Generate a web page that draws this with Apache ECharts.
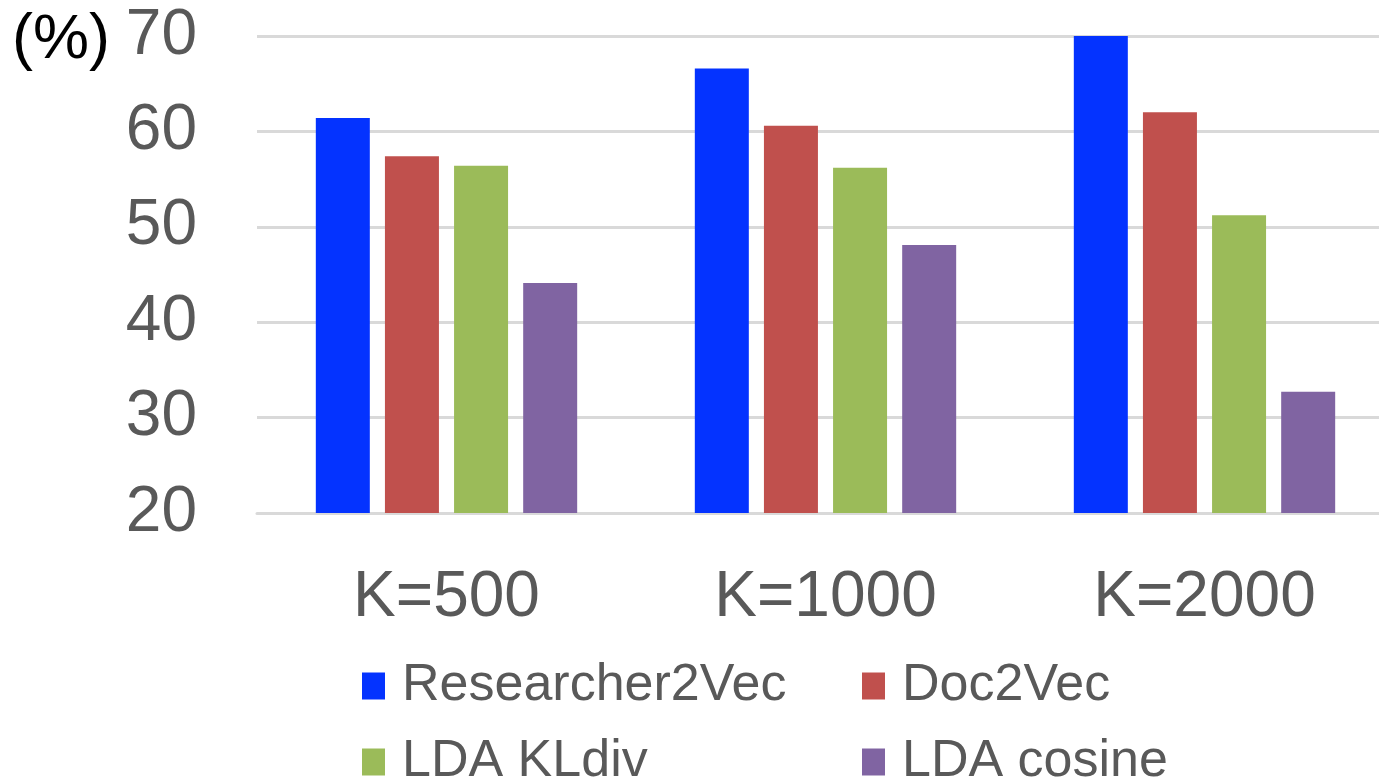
<!DOCTYPE html>
<html><head><meta charset="utf-8">
<script src="https://cdn.jsdelivr.net/npm/echarts@6/dist/echarts.min.js"></script>
<style>html,body{margin:0;padding:0;background:#fff;overflow:hidden}#c{width:1394px;height:777px}</style>
</head><body><div id="c"></div>
<script>
const categories = ['K=500', 'K=1000', 'K=2000'];
const seriesNames = ['Researcher2Vec', 'Doc2Vec', 'LDA KLdiv', 'LDA cosine'];
const researcher2vec = [61.4, 66.6, 70.2];
const doc2vec = [57.4, 60.6, 62.0];
const ldaKLdiv = [56.4, 56.2, 51.2];
const ldaCosine = [44.1, 48.1, 32.7];
const yTicks = [20, 30, 40, 50, 60, 70];
const colors = ['#0433ff', '#c0504d', '#9bbb59', '#8064a2'];
const values = [researcher2vec, doc2vec, ldaKLdiv, ldaCosine];

const font = 'Liberation Sans, Arial, sans-serif';
const chart = echarts.init(document.getElementById('c'));
const legendPos = [[357, 655], [857, 655], [357, 731], [857, 731]];
chart.setOption({
  animation: false,
  grid: { left: 257, top: 36, right: 0, height: 477, containLabel: false },
  xAxis: {
    type: 'category', data: categories,
    axisLine: { show: true, lineStyle: { color: '#d9d9d9', width: 3 } },
    axisTick: { show: false },
    axisLabel: { fontSize: 64, color: '#595959', fontFamily: font, margin: 53 }
  },
  yAxis: {
    type: 'value', min: yTicks[0], max: yTicks[yTicks.length - 1], interval: 10,
    axisLine: { show: false }, axisTick: { show: false },
    splitLine: { lineStyle: { color: '#d9d9d9', width: 3 } },
    axisLabel: { fontSize: 64, color: '#595959', fontFamily: font, margin: 60 }
  },
  legend: seriesNames.map((n, i) => ({
    data: [n], left: legendPos[i][0], top: legendPos[i][1],
    icon: 'rect', itemWidth: 23, itemHeight: 27, itemGap: 0,
    textStyle: { fontSize: 52, color: '#595959', fontFamily: font, padding: [0, 0, 0, 12] }
  })),
  graphic: [{
    type: 'text', left: 12, top: 9,
    style: { text: '(%)', font: '63px ' + font, fill: '#000' }
  }],
  series: seriesNames.map((n, i) => ({
    name: n, type: 'bar', data: values[i], barWidth: 54, barGap: '28%',
    itemStyle: { color: colors[i] }
  }))
});
</script></body></html>
